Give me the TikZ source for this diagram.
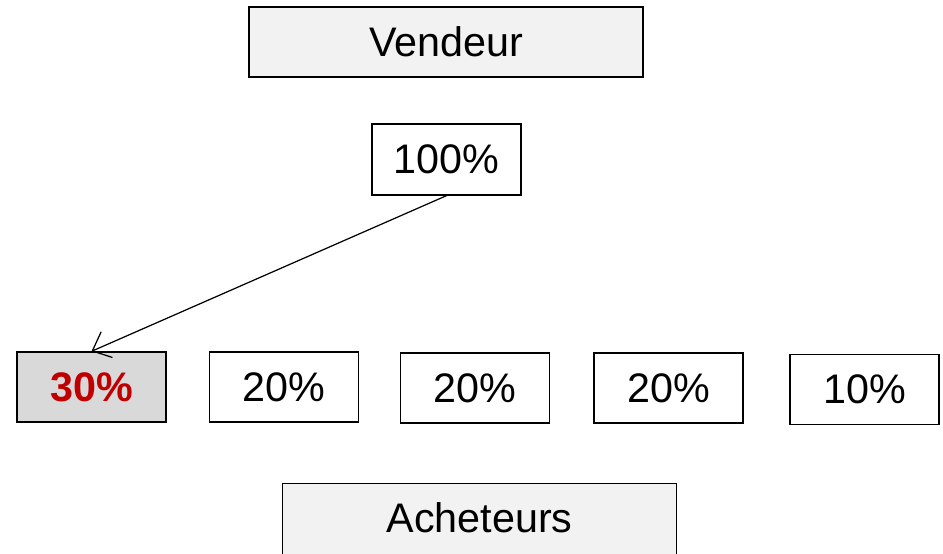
\documentclass[tikz,border=0pt]{standalone}
\usepackage{fontspec}
\setmainfont{Liberation Sans}
\usetikzlibrary{arrows.meta}
\definecolor{boxgray}{HTML}{F2F2F2}
\definecolor{sharegray}{HTML}{D9D9D9}
\definecolor{sharered}{HTML}{C00000}
\tikzset{
  partybox/.style={draw, line width=0.75pt, fill=boxgray, minimum width=7.88cm, minimum height=1.4cm, inner sep=0pt, font=\fontsize{23.5}{28}\selectfont},
  sharebox/.style={draw, line width=0.75pt, fill=white, minimum width=2.98cm, minimum height=1.4cm, inner sep=0pt, font=\fontsize{23.5}{28}\selectfont}
}
\begin{document}
\begin{tikzpicture}
	\useasboundingbox (0,0) rectangle (18.86,11.06);
	% Seller and the whole lot
	\node[partybox] (vendeur) at (8.92,10.22) {Vendeur};
	\node[sharebox, minimum height=1.42cm] (p100) at (8.93,7.87) {100\%};
	% Buyers' shares
	\node[sharebox, fill=sharegray, text=sharered, font=\fontsize{23.5}{28}\selectfont\bfseries] (p30) at (1.83,3.32) {30\%};
	\node[sharebox] (p20a) at (5.68,3.32) {20\%};
	\node[sharebox] (p20b) at (9.50,3.30) {20\%};
	\node[sharebox] (p20c) at (13.37,3.30) {20\%};
	\node[sharebox] (p10) at (17.29,3.27) {10\%};
	% Buyers (box runs past the lower edge)
	\node[partybox, anchor=north, minimum height=0pt, text height=0.98cm, text depth=0.62cm] (acheteurs) at (9.59,1.40) {Acheteurs};
	% Arrow to the first buyer
	\draw[-{Straight Barb[length=9pt,width=16pt]}, line width=0.7pt] (p100.south) -- (p30.north);
\end{tikzpicture}
\end{document}
